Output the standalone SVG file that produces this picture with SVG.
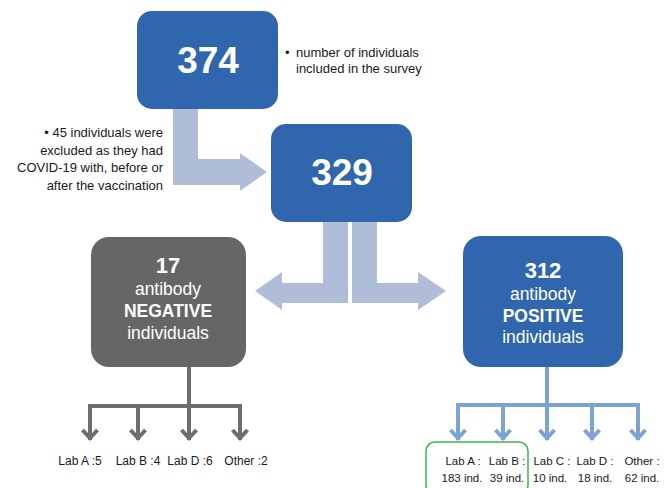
<svg xmlns="http://www.w3.org/2000/svg" width="670" height="488" viewBox="0 0 670 488">
<defs>
<style>
text{font-family:"Liberation Sans",Arial,sans-serif}
.blue{fill:#2F66AD}
.gray{fill:#666666}
.big{fill:#fff;font-weight:bold;font-size:37px;text-anchor:middle}
.num{fill:#fff;font-weight:bold;font-size:22px;text-anchor:middle}
.lab{fill:#fff;font-size:17.5px;text-anchor:middle}
.labb{fill:#fff;font-size:17.5px;font-weight:bold;text-anchor:middle}
.note{fill:#1a1a1a;font-size:13px}
.fat{fill:#B0BDD9}
.gl{stroke:#6E6E6E;stroke-width:4;fill:none}
.bl{stroke:#7CA3D2;stroke-width:4;fill:none}
.sm{fill:#1a1a1a;font-size:12px;text-anchor:middle}
.sm2{fill:#1a1a1a;font-size:11.5px;text-anchor:middle}
</style>
<marker id="ag" viewBox="0 0 20 16" refX="10" refY="14" markerWidth="20" markerHeight="16" markerUnits="userSpaceOnUse" orient="0" overflow="visible">
<path d="M2.5,4 L10,12 L17.5,4" fill="none" stroke="#6E6E6E" stroke-width="4"/>
</marker>
<marker id="ab" viewBox="0 0 20 16" refX="10" refY="14" markerWidth="20" markerHeight="16" markerUnits="userSpaceOnUse" orient="0" overflow="visible">
<path d="M2.5,4 L10,12 L17.5,4" fill="none" stroke="#7CA3D2" stroke-width="4"/>
</marker>
</defs>
<rect width="670" height="488" fill="#fff"/>
<g id="connectors">
<path class="fat" d="M173,109 L198,109 L198,159 L240,159 L240,153 L267,172 L240,191 L240,185 L173,185 Z"/>
<path class="fat" d="M323,222 L348,222 L348,303 L282,303 L282,310 L255,291 L282,272 L282,283 L323,283 Z"/>
<path class="fat" d="M352,222 L377,222 L377,283 L418,283 L418,272 L446,291 L418,310 L418,303 L352,303 Z"/>
<path class="gl" d="M189,367 L189,406 M88,406 L242,406"/>
<path class="gl" d="M90,404 L90,440" marker-end="url(#ag)"/>
<path class="gl" d="M138,404 L138,440" marker-end="url(#ag)"/>
<path class="gl" d="M189,404 L189,440" marker-end="url(#ag)"/>
<path class="gl" d="M240,404 L240,440" marker-end="url(#ag)"/>
<path class="bl" d="M547,367 L547,405 M456,405 L640,405"/>
<path class="bl" d="M458,403 L458,440" marker-end="url(#ab)"/>
<path class="bl" d="M503,403 L503,440" marker-end="url(#ab)"/>
<path class="bl" d="M547,403 L547,440" marker-end="url(#ab)"/>
<path class="bl" d="M592,403 L592,440" marker-end="url(#ab)"/>
<path class="bl" d="M638,403 L638,440" marker-end="url(#ab)"/>
</g>
<g id="n374">
<rect class="blue" x="137" y="11" width="141" height="98" rx="15"/>
<text class="big" x="208" y="73">374</text>
</g>
<g id="note1">
<text class="note" x="285" y="57">•</text>
<text class="note" x="296" y="57">number of individuals</text>
<text class="note" x="296" y="73">included in the survey</text>
</g>
<g id="note2">
<text class="note" x="163" y="137" text-anchor="end">• 45 individuals were</text>
<text class="note" x="163" y="155" text-anchor="end">excluded as they had</text>
<text class="note" x="163" y="172" text-anchor="end">COVID-19 with, before or</text>
<text class="note" x="163" y="190" text-anchor="end">after the vaccination</text>
</g>
<g id="n329">
<rect class="blue" x="271" y="124" width="141" height="98" rx="15"/>
<text class="big" x="342" y="185">329</text>
</g>
<g id="negative">
<rect class="gray" x="91" y="237" width="155" height="130" rx="18"/>
<text class="num" x="168" y="273">17</text>
<text class="lab" x="168" y="295">antibody</text>
<text class="labb" x="168" y="317">NEGATIVE</text>
<text class="lab" x="168" y="339">individuals</text>
</g>
<g id="positive">
<rect class="blue" x="463" y="236" width="160" height="131" rx="18"/>
<text class="num" x="543" y="278">312</text>
<text class="lab" x="543" y="300">antibody</text>
<text class="labb" x="543" y="322">POSITIVE</text>
<text class="lab" x="543" y="343">individuals</text>
</g>
<g id="neg-labels">
<text class="sm" x="80" y="465">Lab A :5</text>
<text class="sm" x="138" y="465">Lab B :4</text>
<text class="sm" x="190" y="465">Lab D :6</text>
<text class="sm" x="246" y="465">Other :2</text>
</g>
<g id="highlight">
<rect x="426" y="442" width="102" height="52" rx="9" fill="none" stroke="#3DB54A" stroke-width="1.5"/>
</g>
<g id="pos-labels">
<text class="sm2" x="463" y="465">Lab A :</text>
<text class="sm2" x="462" y="482">183 ind.</text>
<text class="sm2" x="507" y="465">Lab B :</text>
<text class="sm2" x="507" y="482">39 ind.</text>
<text class="sm2" x="552" y="465">Lab C :</text>
<text class="sm2" x="550" y="482">10 ind.</text>
<text class="sm2" x="595" y="465">Lab D :</text>
<text class="sm2" x="595" y="482">18 ind.</text>
<text class="sm2" x="642" y="465">Other :</text>
<text class="sm2" x="642" y="482">62 ind.</text>
</g>
</svg>
